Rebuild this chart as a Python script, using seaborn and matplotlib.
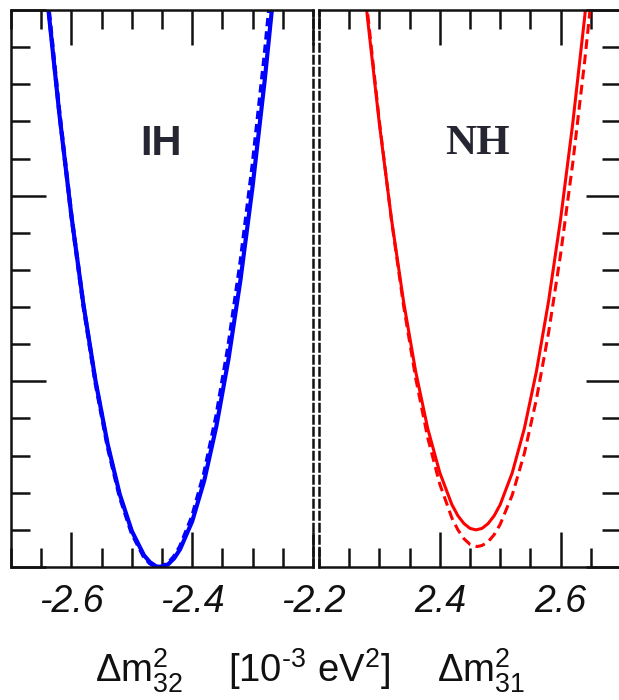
import matplotlib
matplotlib.use("Agg")
import matplotlib.pyplot as plt
import seaborn as sns
from matplotlib.ticker import FixedLocator

# Delta chi^2 profiles versus the atmospheric mass splitting
ih_solid_x = [-2.66, -2.64, -2.62, -2.60, -2.58, -2.56, -2.54, -2.52, -2.50, -2.48,
              -2.47, -2.46, -2.453, -2.44, -2.43, -2.42, -2.40, -2.38, -2.36, -2.34,
              -2.32, -2.30, -2.28, -2.26]
ih_solid_chi2 = [18.75, 15.31, 12.21, 9.46, 7.06, 5.01, 3.31, 1.96, 0.97, 0.32,
                 0.13, 0.02, 0.0, 0.07, 0.23, 0.48, 1.23, 2.33, 3.79, 5.59,
                 7.74, 10.25, 13.10, 16.30]

ih_dashed_x = [-2.66, -2.64, -2.62, -2.60, -2.58, -2.56, -2.54, -2.52, -2.50, -2.48,
               -2.47, -2.46, -2.455, -2.45, -2.44, -2.43, -2.42, -2.40, -2.38, -2.36,
               -2.34, -2.32, -2.30, -2.28, -2.26]
ih_dashed_chi2 = [18.91, 15.40, 12.25, 9.46, 7.03, 4.96, 3.25, 1.90, 0.91, 0.28,
                  0.10, 0.01, 0.0, 0.01, 0.10, 0.28, 0.55, 1.36, 2.53, 4.06,
                  5.95, 8.20, 10.81, 13.78, 17.11]

nh_solid_x = [2.26, 2.28, 2.30, 2.32, 2.34, 2.36, 2.38, 2.40, 2.42, 2.43,
              2.44, 2.45, 2.46, 2.47, 2.48, 2.49, 2.50, 2.52, 2.54, 2.56,
              2.58, 2.60, 2.62, 2.64, 2.66]
nh_solid_chi2 = [18.08, 14.83, 11.93, 9.37, 7.15, 5.27, 3.73, 2.54, 1.68, 1.38,
                 1.17, 1.04, 1.00, 1.04, 1.17, 1.38, 1.68, 2.54, 3.73, 5.27,
                 7.15, 9.37, 11.93, 14.83, 18.08]

nh_dashed_x = [2.26, 2.28, 2.30, 2.32, 2.34, 2.36, 2.38, 2.40, 2.42, 2.43,
               2.44, 2.45, 2.462, 2.47, 2.48, 2.49, 2.50, 2.52, 2.54, 2.56,
               2.58, 2.60, 2.62, 2.64, 2.66]
nh_dashed_chi2 = [18.34, 14.99, 11.99, 9.34, 7.04, 5.09, 3.48, 2.23, 1.32, 1.00,
                  0.76, 0.61, 0.55, 0.58, 0.68, 0.87, 1.15, 1.94, 3.06, 4.52,
                  6.30, 8.42, 10.86, 13.64, 16.74]

ih_ticks = [-2.6, -2.4, -2.2]
ih_ticklabels = ["-2.6", "-2.4", "-2.2"]
nh_ticks = [2.4, 2.6]
nh_ticklabels = ["2.4", "2.6"]

xlabel_parts = [r"$\Delta\mathrm{m}^2_{32}$",
                r"[10$^{\text{-}3}$ eV$^2$]",
                r"$\Delta\mathrm{m}^2_{31}$"]

sns.set_theme(style="ticks")
plt.rcParams["font.family"] = ["Liberation Sans", "DejaVu Sans"]
plt.rcParams["mathtext.fontset"] = "custom"
plt.rcParams["mathtext.rm"] = "Liberation Sans"
plt.rcParams["mathtext.it"] = "Liberation Sans:italic"

fig = plt.figure(figsize=(6.19, 7.0), dpi=100)
W, H = 619.0, 700.0
axL = fig.add_axes([11 / W, 133 / H, 302 / W, 557 / H])
axR = fig.add_axes([319 / W, 133 / H, 302 / W, 557 / H])

BLUE = "#0000ff"
RED = "#ff0000"
INK = "#111111"

sns.lineplot(x=ih_solid_x, y=ih_solid_chi2, ax=axL, color=BLUE, lw=3.0, sort=False)
sns.lineplot(x=ih_dashed_x, y=ih_dashed_chi2, ax=axL, color=BLUE, lw=3.0, sort=False,
             linestyle=(0, (2.0, 1.2)))
sns.lineplot(x=nh_solid_x, y=nh_solid_chi2, ax=axR, color=RED, lw=2.2, sort=False)
sns.lineplot(x=nh_dashed_x, y=nh_dashed_chi2, ax=axR, color=RED, lw=2.2, sort=False,
             linestyle=(0, (3.2, 1.8)))

tick_font = dict(family="Liberation Sans", style="italic", size=27, color=INK)

for ax, lo, hi in [(axL, -2.7, -2.2), (axR, 2.2, 2.7)]:
    ax.set_xlim(lo, hi)
    ax.set_ylim(0, 15)
    ax.set_facecolor("white")
    for s in ax.spines.values():
        s.set_linewidth(1.8)
        s.set_color(INK)
    ax.yaxis.set_major_locator(FixedLocator([0, 5, 10, 15]))
    ax.yaxis.set_minor_locator(FixedLocator(list(range(0, 16))))
    ax.tick_params(axis="both", which="major", direction="in", length=25, width=1.8,
                   color=INK, top=True, bottom=True, pad=12)
    ax.tick_params(axis="both", which="minor", direction="in", length=14, width=1.8,
                   color=INK, top=True, bottom=True)
    ax.set_xlabel("")
    ax.set_ylabel("")

axL.xaxis.set_major_locator(FixedLocator(ih_ticks))
axL.xaxis.set_minor_locator(FixedLocator([-2.7 + 0.05 * i for i in range(11)]))
axL.set_xticklabels(ih_ticklabels, fontdict=tick_font)
axL.tick_params(axis="y", which="both", left=True, right=False, labelleft=False)

axR.xaxis.set_major_locator(FixedLocator(nh_ticks))
axR.xaxis.set_minor_locator(FixedLocator([2.2 + 0.05 * i for i in range(11)]))
axR.set_xticklabels(nh_ticklabels, fontdict=tick_font)
axR.tick_params(axis="y", which="both", left=False, right=True, labelleft=False,
                labelright=False)

# the shared boundary between the two hierarchies is drawn dashed
axL.spines["right"].set_linestyle((0, (3.0, 1.8)))
axR.spines["left"].set_linestyle((0, (3.0, 1.8)))

axL.text(-2.452, 11.4, "IH", ha="center", va="center", fontsize=30,
         fontweight="bold", family="Liberation Sans", color="#262633")
axR.text(2.463, 11.4, "NH", ha="center", va="center", fontsize=31,
         fontweight="bold", family="Liberation Serif", color="#262633")

# common axis title, in three pieces spread under both panels
for x_px, part in zip([95, 228, 437], xlabel_parts):
    fig.text(x_px / W, 18 / H, part, ha="left", va="baseline", fontsize=27.5, color=INK)

fig.savefig("out.png", dpi=100, facecolor="white")
